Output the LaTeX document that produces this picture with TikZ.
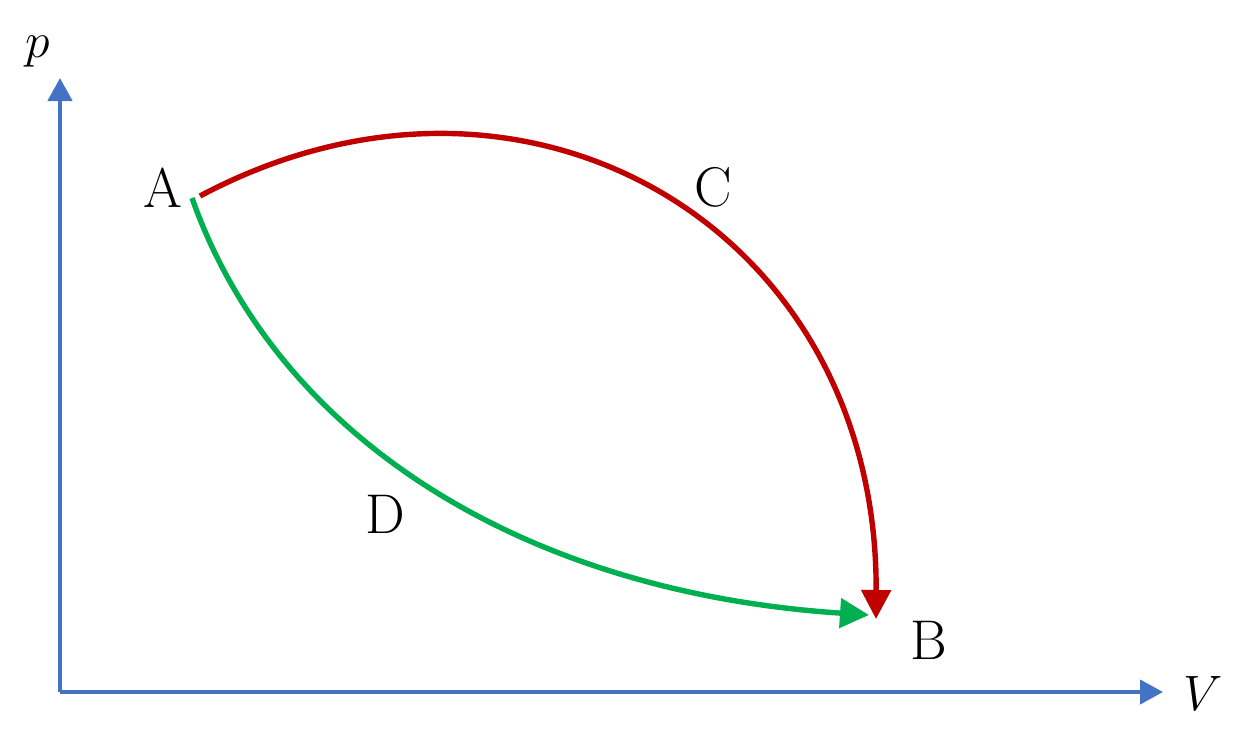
\documentclass[tikz,border=0pt]{standalone}
\usepackage{amssymb,amsmath}
\usepackage{xcolor}
\usetikzlibrary{arrows.meta}

\definecolor{axisblue}{RGB}{68,114,196}
\definecolor{pathred}{RGB}{192,0,0}
\definecolor{pathgreen}{RGB}{0,176,80}

\tikzset{
  axisline/.style={color=axisblue, line width=2.2pt, -{Triangle[length=11.5pt,width=12pt]}},
  processline/.style={line width=2.7pt, -{Triangle[length=14.5pt,width=14.5pt]}},
  statelabel/.style={inner sep=0.75pt, font=\fontsize{28}{34}\selectfont},
}

\begin{document}
\begin{tikzpicture}[x=0.5pt,y=0.5pt,yscale=-1,xscale=1]
\useasboundingbox (0,0) rectangle (1245,733);

%Coordinates
\coordinate (origin) at (60,692);
\coordinate (ptip) at (60,78);
\coordinate (Vtip) at (1163,692);
\coordinate (redstart) at (200,196);
\coordinate (greenstart) at (192,198);
\coordinate (redend) at (876,619);
\coordinate (greenend) at (869,615);

%Shape: Axis 2D
\draw [axisline] (origin) -- (ptip);
\draw [axisline] (origin) -- (Vtip);

%Curve Lines (path C)
\draw [processline, color=pathred] (redstart) .. controls (527,22) and (878,229) .. (redend);
%Curve Lines (path D)
\draw [processline, color=pathgreen] (greenstart) .. controls (276,436) and (520,592) .. (greenend);

% Text Node
\node (A) at (163,188) [statelabel] {A};
% Text Node
\node (B) at (929,640) [statelabel] {B};
% Text Node
\node (C) at (713,187) [statelabel] {C};
% Text Node
\node (D) at (385,514) [statelabel] {D};
% Text Node
\node (plabel) at (38,52) [statelabel] {$p$};
% Text Node
\node (Vlabel) at (1203,693) [statelabel] {$V$};

\end{tikzpicture}
\end{document}
